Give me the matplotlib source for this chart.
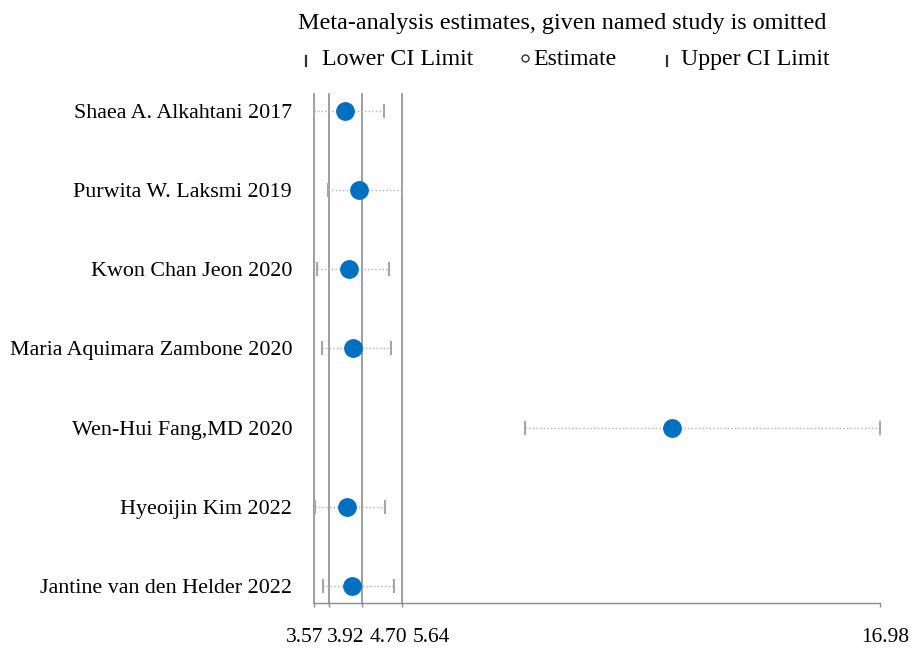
import numpy as np
import matplotlib
matplotlib.use("Agg")
import matplotlib.pyplot as plt
from matplotlib.lines import Line2D
from matplotlib.transforms import ScaledTranslation

plt.rcParams["font.family"] = ["Liberation Serif", "DejaVu Serif"]

# data
studies = [
    "Shaea A. Alkahtani 2017",
    "Purwita W. Laksmi 2019",
    "Kwon Chan Jeon 2020",
    "Maria Aquimara Zambone 2020",
    "Wen-Hui Fang,MD 2020",
    "Hyeoijin Kim 2022",
    "Jantine van den Helder 2022",
]
estimate = [4.30, 4.64, 4.40, 4.49, 12.04, 4.34, 4.47]
lower_ci = [3.57, 3.90, 3.63, 3.76, 8.56, 3.58, 3.77]
upper_ci = [5.23, 5.64, 5.34, 5.38, 16.98, 5.25, 5.46]
x_ticks = [3.57, 3.92, 4.70, 5.64, 16.98]
x_tick_labels = ["3.57", "3.92", "4.70", "5.64", "16.98"]
ref_lines = [3.57, 3.92, 4.70, 5.64]

BLUE = "#0070c0"
GRAY = "#8c8c8c"

fig = plt.figure(figsize=(9.12, 6.5), dpi=100)
ax = fig.add_axes([314.3 / 912, 47 / 650, (880 - 314.3) / 912, (603 - 94) / 650])

y = np.arange(len(studies))

for xv in ref_lines:
    ax.axvline(xv, color=GRAY, lw=1.2, clip_on=False, zorder=1)

ax.hlines(y, lower_ci, upper_ci, colors="#b0b0b0", lw=1.0,
          linestyles=[(0, (1, 1.6))], zorder=2)
ax.plot(lower_ci, y, ls="none", marker="|", ms=10, mew=1.5,
        color="#a6a6a6", zorder=3, clip_on=False)
ax.plot(upper_ci, y, ls="none", marker="|", ms=10, mew=1.5,
        color="#a6a6a6", zorder=3, clip_on=False)
ax.plot(estimate, y, ls="none", marker="o", ms=12.5, color=BLUE,
        mec=BLUE, zorder=4, clip_on=False)

ax.set_xlim(3.57, 16.98)
ax.set_ylim(len(studies) - 1 + 0.215, -0.21)

ax.set_yticks(y)
ax.set_yticklabels(studies, fontsize=15.8)
ax.tick_params(axis="y", length=0, pad=16)

ax.set_xticks(x_ticks)
ax.set_xticklabels(x_tick_labels, fontsize=15.5)
ax.tick_params(axis="x", length=3, width=1, color=GRAY, pad=15)

# the reference spreads the crowded tick labels apart
shifts = [-10, 17, 26, 30, 5]
for lab, dx in zip(ax.get_xticklabels(), shifts):
    lab.set_transform(lab.get_transform()
                      + ScaledTranslation(dx / 100, 0, fig.dpi_scale_trans))

for side in ["left", "right", "top"]:
    ax.spines[side].set_visible(False)
ax.spines["bottom"].set_color(GRAY)
ax.spines["bottom"].set_linewidth(1.0)

# header / legend
def fy(py):
    return 1 - py / 650

fig.text(298 / 912, fy(28.5), "Meta-analysis estimates, given named study is omitted",
         fontsize=17.4, va="baseline", ha="left")
fig.text(321.5 / 912, fy(65), "Lower CI Limit", fontsize=17.2, va="baseline")
fig.text(533 / 912, fy(65), "Estimate", fontsize=17.2, va="baseline")
fig.text(681 / 912, fy(65), "Upper CI Limit", fontsize=17.2, va="baseline")
for px in [306, 667]:
    fig.add_artist(Line2D([px / 912, px / 912], [fy(55.5), fy(65.5)],
                          transform=fig.transFigure, color="#333333", lw=1.6))
fig.add_artist(Line2D([525 / 912], [fy(58)], transform=fig.transFigure,
                      marker="o", ms=5, mfc="none", mec="#333333", mew=1.0))

fig.savefig("out.png", dpi=100)
